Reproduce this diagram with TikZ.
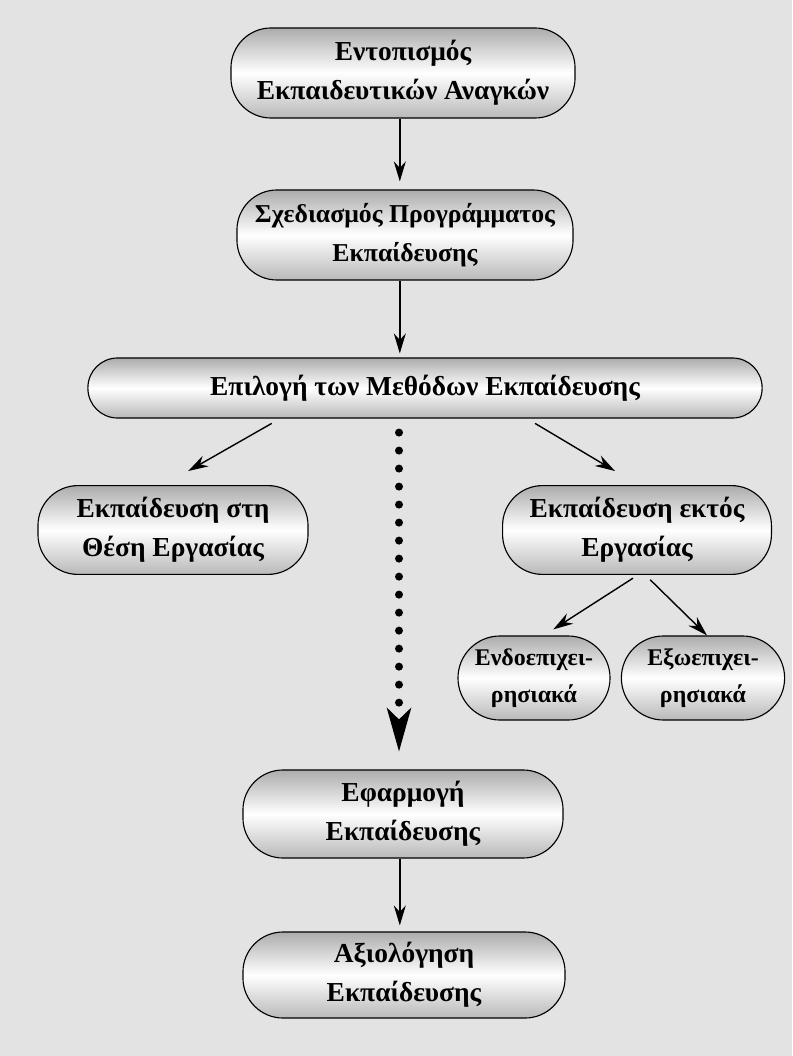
\documentclass[tikz,border=0pt]{standalone}
\usepackage{fontspec}
\setmainfont{Liberation Serif}
\usetikzlibrary{arrows.meta}
\definecolor{paper}{HTML}{E3E3E3}

\begin{document}
\begin{tikzpicture}[x=0.025cm, y=-0.025cm,
  box/.style={draw=black, line width=0.8pt, top color=gray!65, bottom color=gray!55,
    middle color=white, align=center, inner sep=0pt, rounded corners=1cm,
    font=\fontsize{19.5}{28}\selectfont\bfseries},
  smallbox/.style={box, rounded corners=1.05cm, font=\fontsize{17}{26}\selectfont\bfseries},
  arr/.style={line width=1pt, -{Stealth[length=0.5cm, width=0.3cm]}},
  dotarr/.style={line width=0.2cm, line cap=round, dash pattern=on 0pt off 0.45cm,
    -{Stealth[length=1.1cm, width=0.62cm, inset=0.3cm, line width=0pt]}}]
  \fill[paper] (0,0) rectangle (792,1056);

  \node [box, minimum width=8.6cm, minimum height=2.25cm] (n1) at (403,73)
    {Εντοπισμός\\Εκπαιδευτικών Αναγκών};
  \node [box, minimum width=8.4cm, minimum height=2.25cm, font=\fontsize{18.3}{28}\selectfont\bfseries] (n2) at (405,235)
    {Σχεδιασμός Προγράμματος\\Εκπαίδευσης};
  \node [box, rounded corners=0.74cm, minimum width=16.85cm, minimum height=1.5cm] (n3) at (425,388)
    {Επιλογή των Μεθόδων Εκπαίδευσης};
  \node [box, minimum width=6.75cm, minimum height=2.22cm] (n4) at (173,530)
    {Εκπαίδευση στη\\Θέση Εργασίας};
  \node [box, minimum width=6.72cm, minimum height=2.22cm] (n5) at (637,530)
    {Εκπαίδευση εκτός\\Εργασίας};
  \node [smallbox, minimum width=3.8cm, minimum height=2.1cm] (n6) at (534,678)
    {Ενδοεπιχει-\\ρησιακά};
  \node [smallbox, minimum width=4.08cm, minimum height=2.1cm] (n7) at (703,678)
    {Εξωεπιχει-\\ρησιακά};
  \node [box, minimum width=8cm, minimum height=2.2cm] (n8) at (403,814)
    {Εφαρμογή\\Εκπαίδευσης};
  \node [box, minimum width=8.05cm, minimum height=2.15cm] (n9) at (404,975)
    {Αξιολόγηση\\Εκπαίδευσης};

  \draw [arr, shorten >=0.2cm] ([xshift=-0.08cm]n1.south) -- ([xshift=-0.08cm]n1.south |- n2.north);
  \draw [arr, shorten >=0.1cm] ([xshift=-0.08cm]n1.south |- n2.south) -- ([xshift=-0.08cm]n1.south |- n3.north);
  \draw [arr] ([xshift=-3.83cm, yshift=-0.12cm]n3.south) -- ([xshift=0.38cm, yshift=0.35cm]n4.north);
  \draw [arr] ([xshift=2.75cm, yshift=-0.12cm]n3.south) -- ([xshift=-0.55cm, yshift=0.35cm]n5.north);
  \draw [arr] ([xshift=-0.1cm, yshift=-0.08cm]n5.south) -- ([xshift=0.48cm, yshift=0.15cm]n6.north);
  \draw [arr] ([xshift=0.33cm, yshift=-0.12cm]n5.south) -- ([xshift=0.1cm]n7.north);
  \draw [dotarr, shorten <=0.35cm, shorten >=0.45cm] ([xshift=-0.1cm]n3.south -| n8.north) -- ([xshift=-0.1cm]n8.north);
  \draw [arr, shorten >=0.15cm] ([xshift=-0.08cm]n8.south) -- ([xshift=-0.08cm]n8.south |- n9.north);
\end{tikzpicture}
\end{document}
